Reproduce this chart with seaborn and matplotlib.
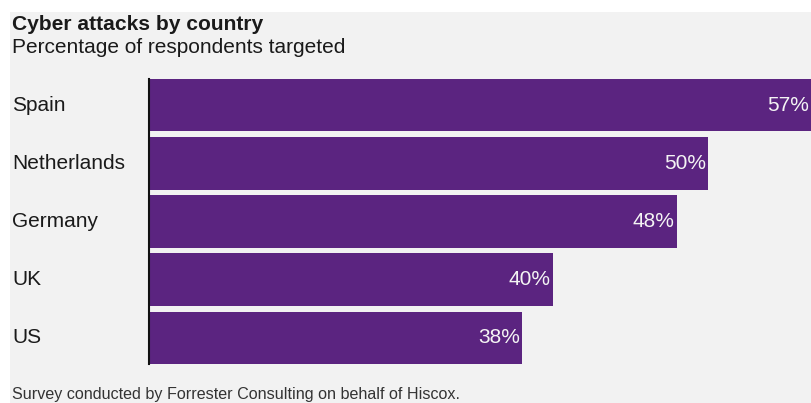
import matplotlib
matplotlib.use("Agg")
import matplotlib.pyplot as plt
import matplotlib.transforms as mtransforms
from matplotlib.patches import Rectangle
import seaborn as sns
import pandas as pd

countries = ["Spain", "Netherlands", "Germany", "UK", "US"]
values = [57, 50, 48, 40, 38]
value_labels = ["57%", "50%", "48%", "40%", "38%"]

title = "Cyber attacks by country"
subtitle = "Percentage of respondents targeted"
footer = "Survey conducted by Forrester Consulting on behalf of Hiscox."

sns.set_theme(style="white")
plt.rcParams["font.family"] = ["Liberation Sans", "DejaVu Sans"]

BG = "#f2f2f2"
BAR = "#5b2480"
TXT = "#1a1a1a"

W, H = 811, 403
fig = plt.figure(figsize=(W / 100, H / 100), dpi=100, facecolor="white")
fig.patches.append(Rectangle((10 / W, 0), 1, 1 - 12 / H, transform=fig.transFigure,
                             facecolor=BG, edgecolor="none", zorder=-10))

ax = fig.add_axes([149 / W, 1 - 364 / H, 1 - 149 / W, (364 - 79) / H])
ax.set_facecolor("none")

df = pd.DataFrame({"country": countries, "value": values})
sns.barplot(data=df, y="country", x="value", color=BAR, saturation=1, width=0.9,
            orient="h", ax=ax, edgecolor="none")

XMIN, XMAX = 13.94, 56.65
ax.set_xlim(XMIN, XMAX)
ax.set_ylim(4.45, -0.45)
for s in ["top", "right", "bottom"]:
    ax.spines[s].set_visible(False)
ax.spines["left"].set_color("#111111")
ax.spines["left"].set_linewidth(1.5)
ax.set_xticks([])
ax.set_yticks([])
ax.set_xlabel("")
ax.set_ylabel("")

trans = mtransforms.blended_transform_factory(fig.transFigure, ax.transData)
for i, (c, v, lab) in enumerate(zip(countries, values, value_labels)):
    ax.text(12 / W, i, c, transform=trans, ha="left", va="center",
            fontsize=15, color=TXT, clip_on=False)
    ax.annotate(lab, xy=(min(v, XMAX), i), xytext=(-1.5, 0), textcoords="offset points",
                ha="right", va="center", fontsize=15, color="#f4f4f4",
                annotation_clip=False)

fig.text(12 / W, 1 - 30 / H, title, ha="left", va="baseline", fontsize=15.1,
         fontweight="bold", color=TXT)
fig.text(12 / W, 1 - 53 / H, subtitle, ha="left", va="baseline", fontsize=15,
         color=TXT)
fig.text(12 / W, 1 - 399 / H, footer, ha="left", va="baseline", fontsize=11.6,
         color="#333333")

fig.savefig("out.png", dpi=100, facecolor="white")
